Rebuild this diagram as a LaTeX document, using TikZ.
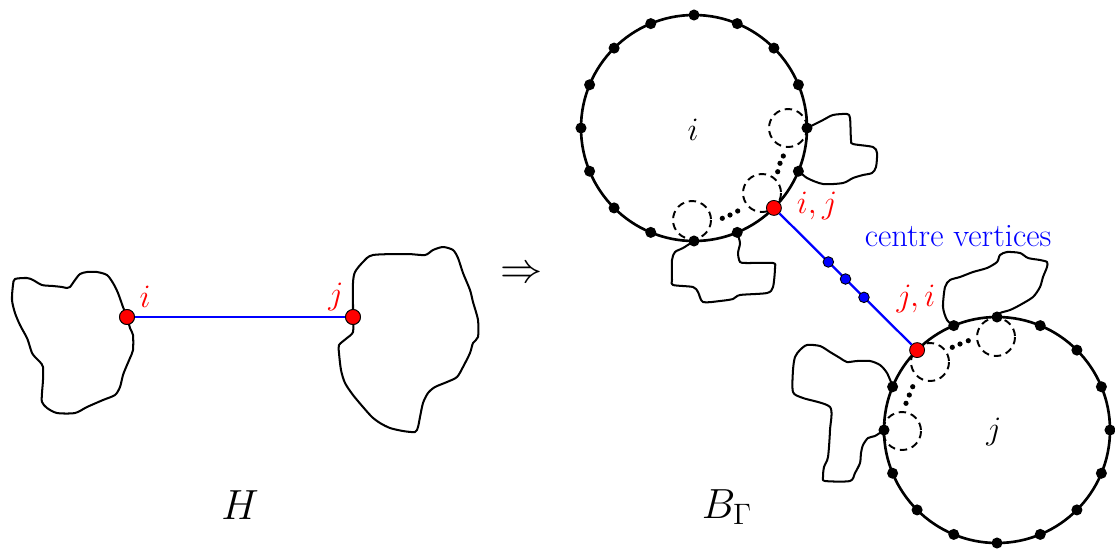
\RequirePackage{fix-cm}
\documentclass[tikz,border=0pt]{standalone}
\usetikzlibrary{calc}
\begin{document}
\begin{tikzpicture}[x=0.02cm,y=-0.02cm,
  blob/.style={line width=1.15pt,line join=round},
  bigc/.style={line width=1.5pt},
  dashc/.style={line width=1.1pt,dash pattern=on 4.2pt off 2.8pt},
  bdot/.style={circle,fill=black,inner sep=0pt,minimum size=6.3pt},
  rdot/.style={circle,fill=red,draw=black,line width=0.5pt,inner sep=0pt,minimum size=8.5pt},
  udot/.style={circle,fill=blue,draw=black,line width=0.5pt,inner sep=0pt,minimum size=6pt},
  edge/.style={blue,line width=1.3pt},
  lab/.style={font=\fontsize{18.6}{21}\selectfont},
  big/.style={font=\fontsize{24}{28}\selectfont}]
\useasboundingbox (0,0) rectangle (1115,549);

% ---------- left: H ----------
\node[rdot] (hi) at (127,317) {};
\node[rdot] (hj) at (353,317) {};
\draw[blob] plot[smooth cycle,tension=0.45] coordinates {
 (127,317) (123,307) (118,293) (113,283) (107,275) (97,272) (87,272) (80,274) (75,280) (70,287) (67,288)
 (62,287) (53,286) (42,285) (33,280) (27,278) (15,279) (13,285) (12,300) (15,313) (20,325) (27,338)
 (30,347) (32,353) (35,357) (40,362) (43,367) (43,380) (42,393) (42,402) (47,408) (57,413) (75,413)
 (87,407) (103,400) (115,395) (120,387) (123,375) (127,365) (130,358) (133,350) (133,335) (130,328)};
\draw[blob] plot[smooth cycle,tension=0.45] coordinates {
 (353,317) (353,307) (353,283) (355,272) (363,262) (373,255) (407,254) (425,255) (433,250) (443,247)
 (453,250) (458,258) (463,273) (470,290) (473,302) (478,320) (478,337) (473,343) (470,353) (463,367)
 (457,377) (447,382) (435,387) (428,393) (423,403) (420,417) (418,427) (415,432) (403,431) (390,428)
 (380,423) (372,417) (363,407) (353,395) (345,383) (341,370) (339,353) (339,345) (347,338) (353,332)};
\draw[edge] (hi) -- (hj);
\node[rdot] at (hi) {};
\node[rdot] at (hj) {};
\node[lab,text=red] (li) at (145,297) {$i$};
\node[lab,text=red] (lj) at (336,297) {$j$};
\node[big] (lH) at (240,505) {$H$};
\node[big] (arr) at (522,275) {$\Rightarrow$};

% ---------- right: B_Gamma ----------
\coordinate (ci) at (694,128);
\coordinate (cj) at (997,430);

% blobs on circle i
\draw[blob] plot[smooth,tension=0.45] coordinates {
 (807,128) (823,120) (833,115) (847,114) (850,118) (851,140) (853,144) (873,147) (877,153) (876,167)
 (872,173) (863,175) (853,178) (843,183) (823,184) (807,178) (799,171)};
\draw[blob] plot[smooth,tension=0.45] coordinates {
 (694,241) (683,248) (675,252) (672,260) (672,280) (673,285) (693,287) (698,292) (703,302) (720,301)
 (733,299) (740,295) (767,293) (773,287) (775,268) (773,263) (747,263) (740,262) (738,253) (740,243) (737,232)};
% blobs on circle j
\draw[blob] plot[smooth,tension=0.45] coordinates {
 (954,326) (947,320) (943,307) (945,287) (950,280) (960,277) (973,272) (987,268) (997,262) (1000,255)
 (1007,252) (1020,253) (1028,258) (1040,260) (1047,262) (1047,267) (1043,277) (1040,287) (1033,297)
 (1020,305) (1010,310) (1000,313) (997,317)};
\draw[blob] plot[smooth,tension=0.45] coordinates {
 (893,387) (887,373) (880,365) (870,361) (857,361) (847,362) (840,358) (830,352) (820,346) (807,345)
 (800,350) (795,357) (793,370) (793,392) (803,398) (830,407) (830,430) (828,457) (824,467) (823,477)
 (825,481) (850,481) (855,473) (860,463) (861,453) (863,445) (868,438) (875,436) (884,430)};

\draw[bigc] (ci) circle (113);
\draw[bigc] (cj) circle (113);

% dashed circles and dotted paths
\coordinate (di1) at (692,220);
\coordinate (di2) at (762,193);
\coordinate (di3) at (788,128);
\draw[dashc] (di1) circle (19) (di2) circle (19) (di3) circle (19);
\coordinate (dj1) at (930,362);
\coordinate (dj2) at (996,337);
\coordinate (dj3) at (902,431);
\draw[dashc] (dj1) circle (19) (dj2) circle (19) (dj3) circle (19);
\foreach \p in {(722.3,218.3),(730,215),(737.7,211),(777.7,171.7),(780,163.3),(783.3,156),
                (952.3,347.3),(960,344),(968.3,340.7),(912.7,386.7),(909.3,395),(906,403.3)}
  \fill \p circle (2.6);

% vertex dots
\foreach \k in {0,1,3,4,...,15} {
  \node[bdot] (iv\k) at ($(ci)+(\k*22.5:113)$) {};
}
\foreach \k in {0,...,9,11,12,...,15} {
  \node[bdot] (jv\k) at ($(cj)+(\k*22.5:113)$) {};
}
\node[rdot] (ij) at ($(ci)+(45:113)$) {};
\node[rdot] (ji) at ($(cj)+(225:113)$) {};
\draw[edge] (ij) -- node[udot,pos=0.37] (m1) {} node[udot,pos=0.5] (m2) {} node[udot,pos=0.64] (m3) {} (ji);

\node[lab] (ni) at (693,130) {$i$};
\node[lab] (nj) at (994,432) {$j$};
\node[lab,text=red] (lij) at (817,206) {$i,j$};
\node[lab,text=red] (lji) at (916,299) {$j,i$};
\node[lab,text=blue] (lcv) at (958,236) {centre vertices};
\node[big] (lB) at (727,507) {$B_\Gamma$};
\end{tikzpicture}
\end{document}
